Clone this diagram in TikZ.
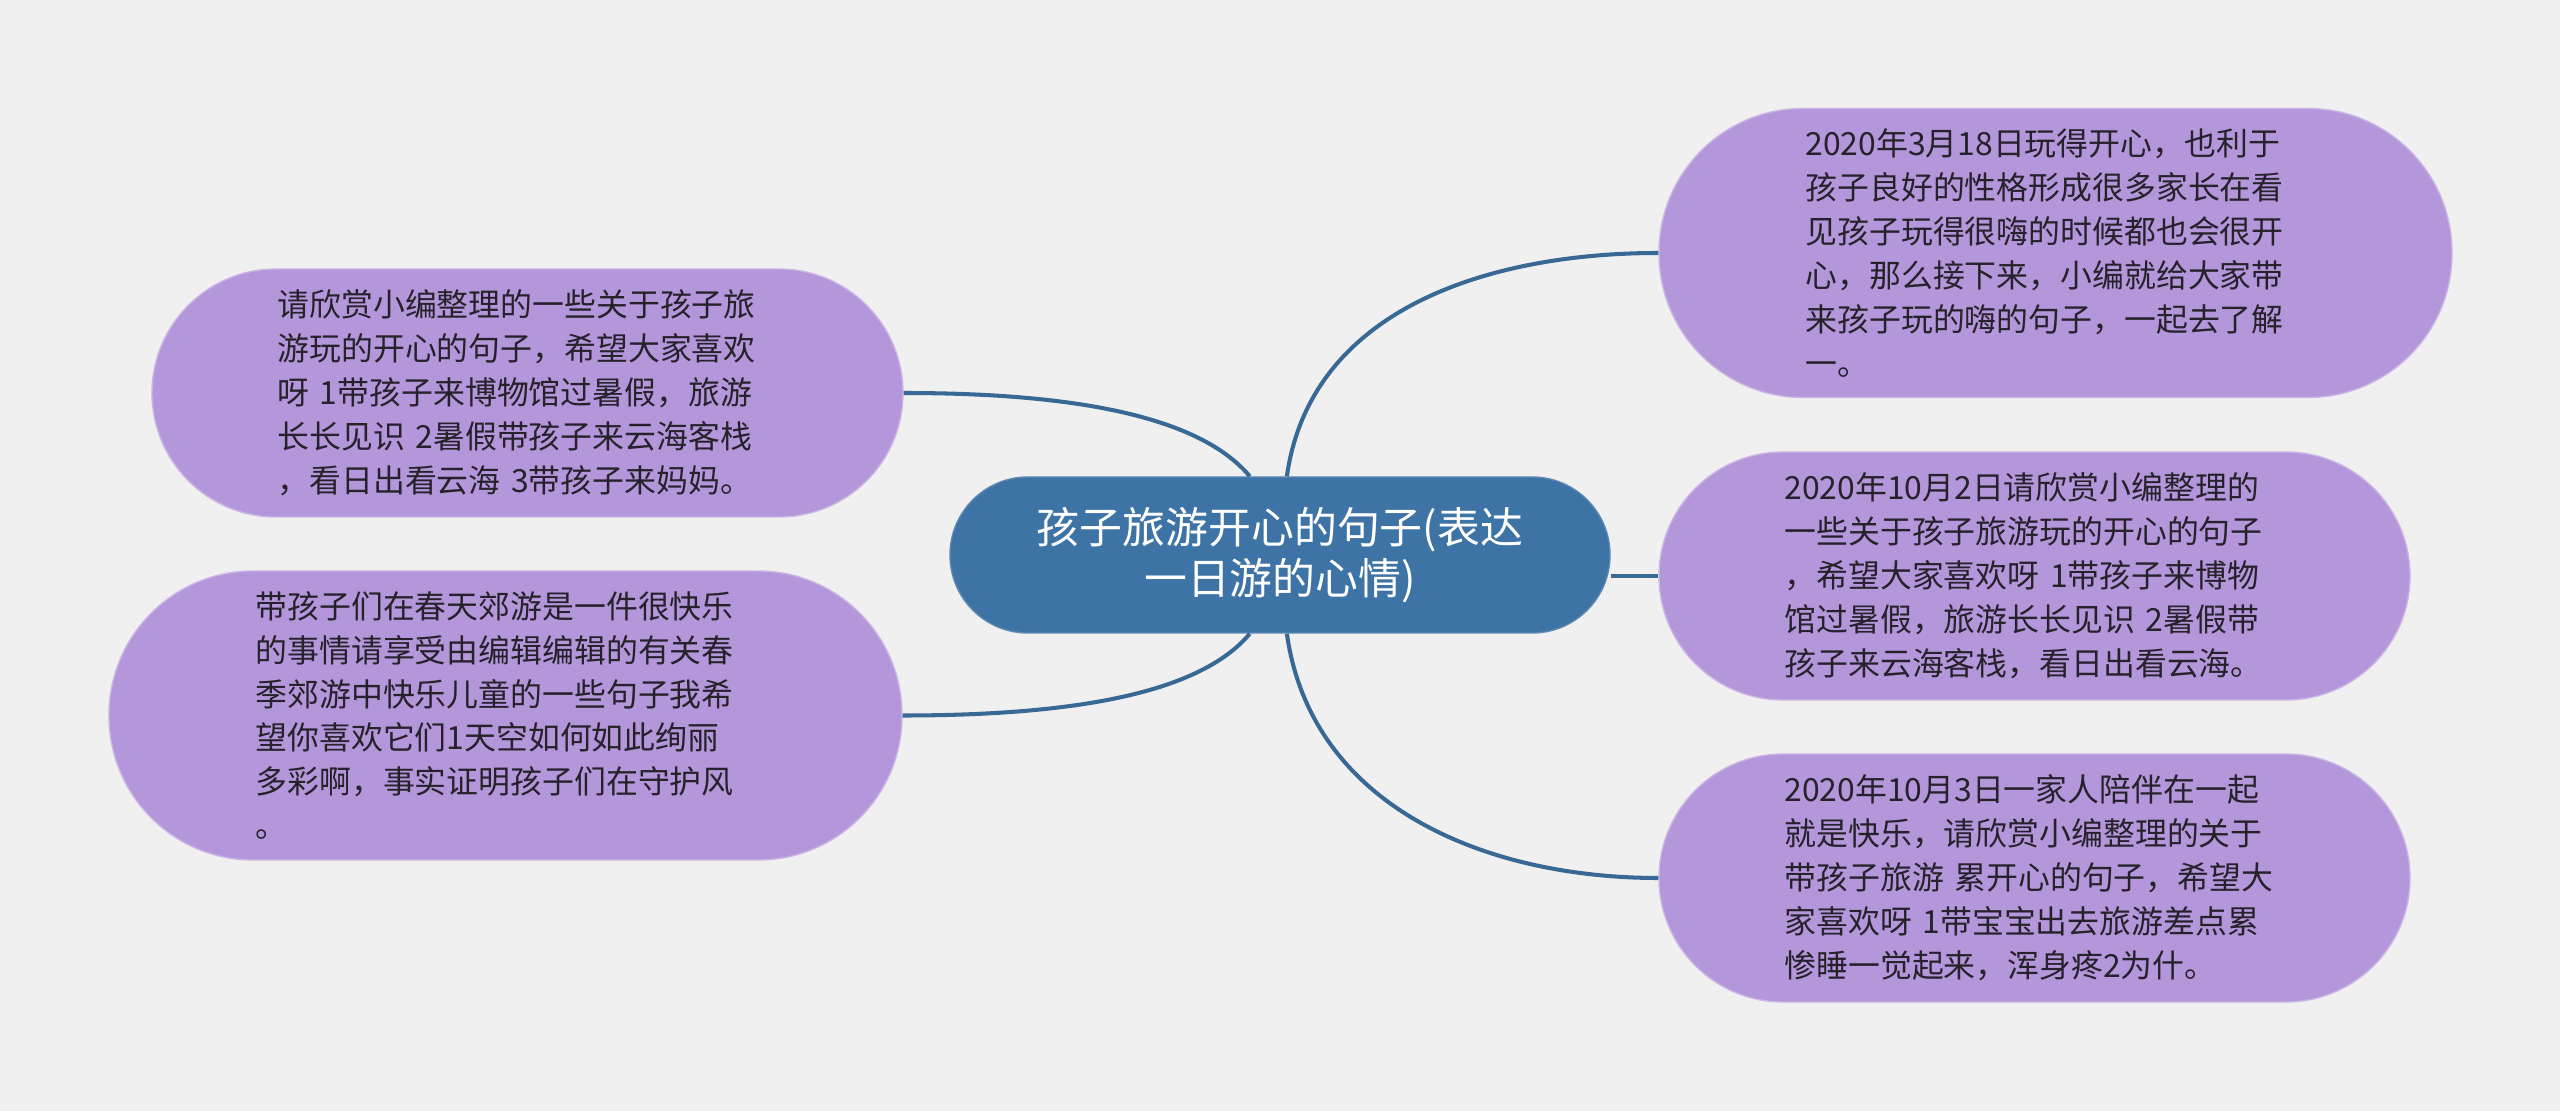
\documentclass[tikz,border=0pt]{standalone}
\usepackage{fontspec}
\setmainfont{Noto Sans CJK SC}
\definecolor{bgcol}{HTML}{F0F0F0}
\definecolor{rootcol}{HTML}{3E73A6}
\definecolor{leafcol}{HTML}{B496DA}
\definecolor{linkcol}{HTML}{386894}
\definecolor{inkcol}{HTML}{26222B}

\begin{document}
\begin{tikzpicture}[
		root/.style={rectangle, rounded corners=0.78cm, fill=rootcol, draw=rootcol!85!white, text=white, minimum width=6.6cm, minimum height=1.56cm, inner sep=0pt, align=center, font=\fontsize{12.2}{14.7}\selectfont},
		leaf/.style={rectangle, fill=leafcol, draw=leafcol!70!white, line width=0.4pt, text=inkcol, inner sep=0pt, text width=5cm, align=left, font=\fontsize{9.07}{12.5}\selectfont},
		smallleaf/.style={leaf, minimum width=7.51cm, minimum height=2.48cm, rounded corners=1.24cm},
		bigleaf/.style={leaf, minimum width=7.93cm, minimum height=2.89cm, rounded corners=1.44cm},
		link/.style={draw=linkcol, line width=1.15pt}]
		\useasboundingbox (0,0) rectangle (25.6,11.11);
		\fill[bgcol] (0,0) rectangle (25.6,11.11);
		% centre
		\node[root] (c) at (12.80,5.56) {孩子旅游开心的句子(表达\\一日游的心情)};
		% left side
		\node[smallleaf] (lt) at (5.275,7.18) {请欣赏小编整理的一些关于孩子旅\\游玩的开心的句子，希望大家喜欢\\呀 1带孩子来博物馆过暑假，旅游\\长长见识 2暑假带孩子来云海客栈\\，看日出看云海 3带孩子来妈妈。};
		\node[bigleaf] (lb) at (5.055,3.955) {带孩子们在春天郊游是一件很快乐\\的事情请享受由编辑编辑的有关春\\季郊游中快乐儿童的一些句子我希\\望你喜欢它们1天空如何如此绚丽\\多彩啊，事实证明孩子们在守护风\\。};
		% right side
		\node[bigleaf] (rt) at (20.555,8.58) {2020年3月18日玩得开心，也利于\\孩子良好的性格形成很多家长在看\\见孩子玩得很嗨的时候都也会很开\\心，那么接下来，小编就给大家带\\来孩子玩的嗨的句子，一起去了解\\一。};
		\node[smallleaf] (rm) at (20.345,5.35) {2020年10月2日请欣赏小编整理的\\一些关于孩子旅游玩的开心的句子\\，希望大家喜欢呀 1带孩子来博物\\馆过暑假，旅游长长见识 2暑假带\\孩子来云海客栈，看日出看云海。};
		\node[smallleaf] (rb) at (20.345,2.33) {2020年10月3日一家人陪伴在一起\\就是快乐，请欣赏小编整理的关于\\带孩子旅游 累开心的句子，希望大\\家喜欢呀 1带宝宝出去旅游差点累\\惨睡一觉起来，浑身疼2为什。};
		% links
		\draw[link] (c.111) .. controls +(-0.47,0.56) and +(1.85,0) .. (lt.east);
		\draw[link] (c.249) .. controls +(-0.47,-0.56) and +(1.85,0) .. (lb.east);
		\draw[link] (c.85) to[out=82,in=180] (rt.west);
		\draw[link] (c.east |- rm.west) -- (rm.west);
		\draw[link] (c.275) to[out=-82,in=180] (rb.west);
	\end{tikzpicture}
\end{document}
